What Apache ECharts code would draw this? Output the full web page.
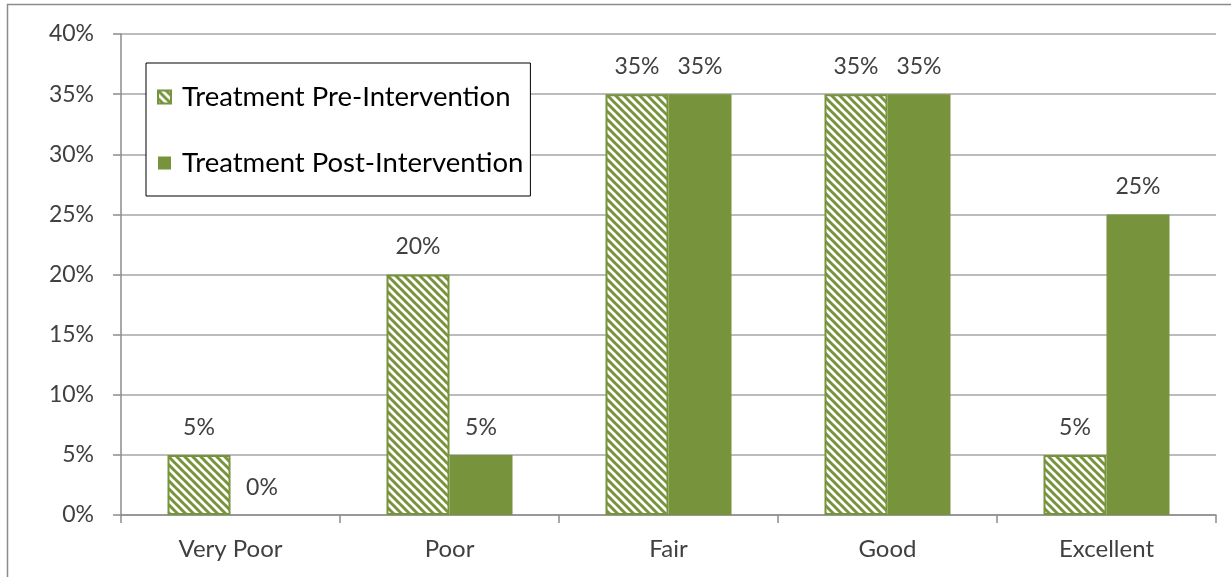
<!DOCTYPE html>
<html>
<head>
<meta charset="utf-8">
<script src="https://cdn.jsdelivr.net/npm/echarts@6/dist/echarts.min.js"></script>
<style>
  html, body { margin: 0; padding: 0; background: #fff; }
  #chart { width: 1231px; height: 577px; }
</style>
</head>
<body>
<div id="chart"></div>
<script>
// Self-rated condition, share of participants in each group
const categories = ['Very Poor', 'Poor', 'Fair', 'Good', 'Excellent'];
const preIntervention = [5, 20, 35, 35, 5];
const postIntervention = [0, 5, 35, 35, 25];
const seriesNames = ['Treatment Pre-Intervention', 'Treatment Post-Intervention'];
const yTicks = { min: 0, max: 40, interval: 5 };

const GREEN = '#77933C';
const TEXT = '#404040';
const FONT = 'Lato';

// Diagonal hatch tile for the pre-intervention bars
function hatchTile() {
  const size = 8;
  const c = document.createElement('canvas');
  c.width = size; c.height = size;
  const ctx = c.getContext('2d');
  ctx.fillStyle = '#fff';
  ctx.fillRect(0, 0, size, size);
  ctx.strokeStyle = GREEN;
  ctx.lineWidth = 3;
  for (let k = -1; k <= 1; k++) {
    ctx.beginPath();
    ctx.moveTo(k * size - 1, -1);
    ctx.lineTo(k * size + size + 1, size + 1);
    ctx.stroke();
  }
  return c;
}

const chart = echarts.init(document.getElementById('chart'), null, { renderer: 'canvas' });

const labelStyle = {
  show: true,
  position: 'top',
  distance: 16,
  formatter: '{c}%',
  fontFamily: FONT,
  fontSize: 23,
  color: TEXT
};

chart.setOption({
  animation: false,
  backgroundColor: '#fff',
  textStyle: { fontFamily: FONT },
  graphic: [{
    type: 'rect',
    silent: true,
    z: -10,
    shape: { x: 7.5, y: 4.5, width: 1400, height: 800 },
    style: { fill: 'none', stroke: '#8c8c8c', lineWidth: 1.5 }
  }],
  grid: { left: 121, right: 15, top: 34, bottom: 62, containLabel: false },
  legend: {
    orient: 'vertical',
    left: 146,
    top: 63,
    data: seriesNames,
    icon: 'rect',
    itemWidth: 13,
    itemHeight: 13,
    itemGap: 38,
    padding: [20, 7, 19, 11],
    backgroundColor: '#fff',
    borderColor: '#000',
    borderWidth: 1,
    borderRadius: 0,
    textStyle: { fontFamily: FONT, fontSize: 27.5, color: '#000', padding: [0, 0, 0, 6] },
    z: 10
  },
  xAxis: {
    type: 'category',
    data: categories,
    boundaryGap: true,
    axisLine: { lineStyle: { color: '#8c8c8c', width: 1.5 } },
    axisTick: { show: true, length: 8, inside: false, alignWithLabel: false, lineStyle: { color: '#8c8c8c', width: 1.5 } },
    axisLabel: { fontFamily: FONT, fontSize: 24, color: TEXT, margin: 22 }
  },
  yAxis: {
    type: 'value',
    min: yTicks.min,
    max: yTicks.max,
    interval: yTicks.interval,
    axisLine: { show: true, lineStyle: { color: '#8c8c8c', width: 1.5 } },
    axisTick: { show: true, length: 8, inside: false, lineStyle: { color: '#8c8c8c', width: 1.5 } },
    splitLine: { show: true, lineStyle: { color: '#a6a6a6', width: 1.5 } },
    axisLabel: { fontFamily: FONT, fontSize: 23, color: TEXT, margin: 27, formatter: '{value}%' }
  },
  series: [
    {
      name: seriesNames[0],
      type: 'bar',
      data: preIntervention,
      barWidth: 63,
      barGap: '0%',
      itemStyle: {
        color: { image: hatchTile(), repeat: 'repeat' },
        borderColor: GREEN,
        borderWidth: 2
      },
      label: labelStyle
    },
    {
      name: seriesNames[1],
      type: 'bar',
      data: postIntervention,
      barWidth: 63,
      barGap: '0%',
      itemStyle: { color: GREEN },
      label: labelStyle
    }
  ]
});
</script>
</body>
</html>
